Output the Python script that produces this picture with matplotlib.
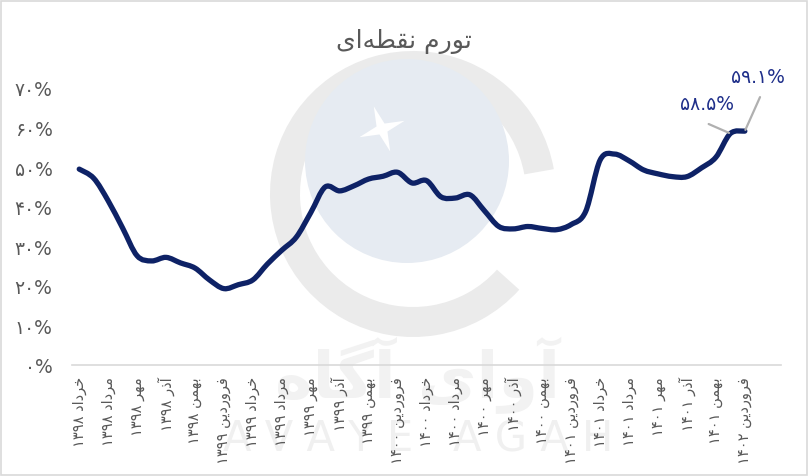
import matplotlib
matplotlib.use("Agg")
import matplotlib.pyplot as plt
from matplotlib.path import Path
from matplotlib.patches import PathPatch, Wedge, Circle, Rectangle, Polygon
import numpy as np

# داده‌ها: تورم نقطه‌ای ماهانه از خرداد ۱۳۹۸ تا فروردین ۱۴۰۲
tick_labels = [
    'خرداد ۱۳۹۸', 'مرداد ۱۳۹۸', 'مهر ۱۳۹۸', 'آذر ۱۳۹۸', 'بهمن ۱۳۹۸', 'فروردین ۱۳۹۹',
    'خرداد ۱۳۹۹', 'مرداد ۱۳۹۹', 'مهر ۱۳۹۹', 'آذر ۱۳۹۹', 'بهمن ۱۳۹۹', 'فروردین ۱۴۰۰',
    'خرداد ۱۴۰۰', 'مرداد ۱۴۰۰', 'مهر ۱۴۰۰', 'آذر ۱۴۰۰', 'بهمن ۱۴۰۰', 'فروردین ۱۴۰۱',
    'خرداد ۱۴۰۱', 'مرداد ۱۴۰۱', 'مهر ۱۴۰۱', 'آذر ۱۴۰۱', 'بهمن ۱۴۰۱', 'فروردین ۱۴۰۲',
]
inflation = [
    49.5, 47.2, 41.5, 34.6, 27.6, 26.3, 27.2, 25.8, 24.5, 21.5,
    19.3, 20.3, 21.5, 25.5, 29.0, 32.3, 38.5, 45.0, 44.0, 45.3,
    47.0, 47.7, 48.7, 46.0, 46.6, 42.5, 42.2, 43.0, 39.0, 35.0,
    34.4, 35.0, 34.5, 34.2, 35.5, 38.8, 51.8, 53.3, 51.6, 49.3,
    48.3, 47.6, 47.6, 49.8, 52.5, 58.5, 59.1,
]
y_ticks = [0, 10, 20, 30, 40, 50, 60, 70]
title = 'تورم نقطه‌ای'

NAVY = '#0E2266'
GRAY = '#595959'
LABEL_BLUE = '#1F2F8A'

# شکل‌دهی ساده حروف فارسی (matplotlib خودش اتصال حروف را انجام نمی‌دهد)
FORMS = {
    'ا': ('\uFE8D', '\uFE8E', None, None),
    'آ': ('\uFE81', '\uFE82', None, None),
    'ب': ('\uFE8F', '\uFE90', '\uFE91', '\uFE92'),
    'ت': ('\uFE95', '\uFE96', '\uFE97', '\uFE98'),
    'خ': ('\uFEA5', '\uFEA6', '\uFEA7', '\uFEA8'),
    'د': ('\uFEA9', '\uFEAA', None, None),
    'ذ': ('\uFEAB', '\uFEAC', None, None),
    'ر': ('\uFEAD', '\uFEAE', None, None),
    'ط': ('\uFEC1', '\uFEC2', '\uFEC3', '\uFEC4'),
    'ف': ('\uFED1', '\uFED2', '\uFED3', '\uFED4'),
    'ق': ('\uFED5', '\uFED6', '\uFED7', '\uFED8'),
    'م': ('\uFEE1', '\uFEE2', '\uFEE3', '\uFEE4'),
    'ن': ('\uFEE5', '\uFEE6', '\uFEE7', '\uFEE8'),
    'ه': ('\uFEE9', '\uFEEA', '\uFEEB', '\uFEEC'),
    'و': ('\uFEED', '\uFEEE', None, None),
    'ی': ('\uFBFC', '\uFBFD', '\uFBFE', '\uFBFF'),
    'گ': ('\uFB92', '\uFB93', '\uFB94', '\uFB95'),
}


def shape_word(w):
    out = []
    n = len(w)
    for i, c in enumerate(w):
        if c not in FORMS:
            if c != '\u200c':
                out.append(c)
            continue
        f = FORMS[c]
        prev = i > 0 and w[i - 1] in FORMS and FORMS[w[i - 1]][2] is not None
        nxt = i < n - 1 and w[i + 1] in FORMS and f[2] is not None
        if prev and nxt:
            out.append(f[3])
        elif prev:
            out.append(f[1])
        elif nxt:
            out.append(f[2])
        else:
            out.append(f[0])
    return ''.join(out)


def rtl(text):
    parts = []
    for tok in text.split(' ')[::-1]:
        if tok and tok[0] in '۰۱۲۳۴۵۶۷۸۹0123456789':
            parts.append(tok)
        else:
            parts.append(shape_word(tok)[::-1])
    return ' '.join(parts)


def fa_digits(s):
    return s.translate(str.maketrans('0123456789', '۰۱۲۳۴۵۶۷۸۹'))


plt.rcParams['font.family'] = ['DejaVu Sans']

fig = plt.figure(figsize=(8.09, 4.77), dpi=100)

# پس‌زمینه و واترمارک (مختصات پیکسلی)
bg = fig.add_axes([0, 0, 1, 1], zorder=0)
bg.set_xlim(0, 809)
bg.set_ylim(0, 477)
bg.axis('off')
bg.add_patch(Rectangle((1, 1), 806, 474, fill=False, edgecolor='#D9D9D9', lw=1.2))
bg.add_patch(Wedge((413, 477 - 195), 143, 10, 318, width=30, color='#EBEBEB', lw=0))
bg.add_patch(Circle((407, 477 - 162), 102, color='#E6EBF2', lw=0))
# ستاره چهارپر لوگو
cx, cy = 382, 477 - 130
ang = np.deg2rad(np.arange(0, 360, 45) + 20)
rad = np.where(np.arange(8) % 2 == 0, 24, 6)
bg.add_patch(Polygon(np.c_[cx + rad * np.cos(ang), cy + rad * np.sin(ang)], color='white', lw=0))
bg.text(418, 477 - 375, rtl('آوای آگاه'), ha='center', va='center', fontsize=46,
        color='#F2F2F2', fontweight='bold')
bg.text(418, 477 - 440, 'A V A Y E   A G A H', ha='center', va='center', fontsize=30,
        color='#F0F0F0')

ax = fig.add_axes([72 / 809, (477 - 366) / 477, (781 - 72) / 809, (366 - 89) / 477], zorder=1)
ax.set_facecolor('none')

# خط هموار (بزیه از روی نقاط ماهانه)
x = np.arange(len(inflation))
y = np.array(inflation)
verts = [(x[0], y[0])]
codes = [Path.MOVETO]
for i in range(len(x) - 1):
    p0 = np.array([x[max(i - 1, 0)], y[max(i - 1, 0)]])
    p1 = np.array([x[i], y[i]])
    p2 = np.array([x[i + 1], y[i + 1]])
    p3 = np.array([x[min(i + 2, len(x) - 1)], y[min(i + 2, len(x) - 1)]])
    c1 = p1 + (p2 - p0) / 6
    c2 = p2 - (p3 - p1) / 6
    verts += [tuple(c1), tuple(c2), tuple(p2)]
    codes += [Path.CURVE4] * 3
ax.add_patch(PathPatch(Path(verts, codes), fill=False, edgecolor=NAVY, lw=3.8,
                       capstyle='round', joinstyle='round', zorder=3))

ax.set_xlim(-0.5, 48.5)
ax.set_ylim(0, 70)
ax.set_yticks(y_ticks)
ax.set_yticklabels([fa_digits(str(v)) + '%' for v in y_ticks], fontsize=13.5, color=GRAY)
ax.set_xticks(x[::2])
ax.set_xticklabels([rtl(fa_digits(t)) for t in tick_labels], rotation=90, fontsize=10.5,
                   color=GRAY, va='top', ha='center')
ax.tick_params(axis='both', length=0)
ax.tick_params(axis='y', pad=14)
ax.tick_params(axis='x', pad=8)
for s in ['left', 'right', 'top']:
    ax.spines[s].set_visible(False)
ax.spines['bottom'].set_color('#D9D9D9')
ax.spines['bottom'].set_linewidth(1.2)

# برچسب دو نقطه آخر با خط راهنما
ax.text(43.4, 66.0, fa_digits('58.5') + '%', fontsize=13.5, color=LABEL_BLUE,
        ha='center', va='center')
ax.annotate('', xy=(45, inflation[45]), xytext=(43.5, 60.9),
            arrowprops=dict(arrowstyle='-', color='#B0B0B0', lw=1.6, shrinkA=0, shrinkB=1))
ax.text(46.9, 73.0, fa_digits('59.1') + '%', fontsize=13.5, color=LABEL_BLUE,
        ha='center', va='center', clip_on=False)
ax.annotate('', xy=(46, inflation[46]), xytext=(47.05, 67.7), annotation_clip=False,
            arrowprops=dict(arrowstyle='-', color='#B0B0B0', lw=1.6, shrinkA=0, shrinkB=1))

fig.text(404 / 809, 1 - 42 / 477, rtl(title), ha='center', va='center', fontsize=18, color=GRAY)

fig.savefig('out.png', dpi=100)
